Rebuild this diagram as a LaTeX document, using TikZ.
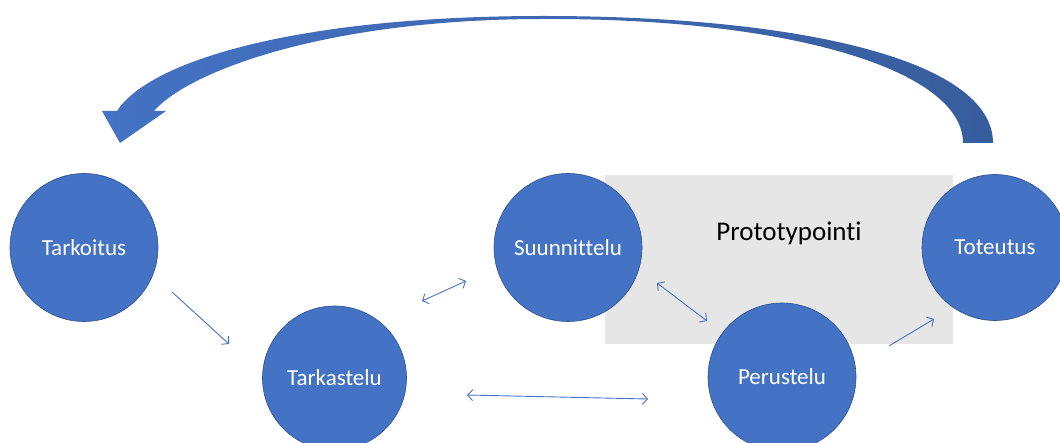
\documentclass[tikz,border=0pt]{standalone}
\usepackage{fontspec}
\setmainfont{Carlito}[Ligatures=NoCommon]
\usetikzlibrary{arrows.meta}
\definecolor{nodeblue}{HTML}{4472C4}
\definecolor{nodeedge}{HTML}{2F528F}
\definecolor{arcdark}{HTML}{375D9D}
\definecolor{protogrey}{HTML}{E7E6E6}
\tikzset{
  phase/.style={circle, fill=nodeblue, draw=nodeedge, line width=0.6pt,
    minimum size=148pt, inner sep=0pt, text=white,
    font=\fontsize{23}{27}\selectfont},
  link/.style={draw=nodeblue, line width=0.9pt,
    -{Straight Barb[length=5pt,width=11pt]}},
  biglink/.style={draw=nodeblue, line width=0.9pt,
    {Straight Barb[length=5pt,width=11pt]}-{Straight Barb[length=5pt,width=11pt]}}
}
\begin{document}
\begin{tikzpicture}[x=1pt,y=-1pt]
\useasboundingbox (0,0) rectangle (1060,443);
\clip (0,0) rectangle (1060,443);

% prototyping area
\node[fill=protogrey, minimum width=348pt, minimum height=169pt, anchor=north west,
      inner sep=0pt] (proto) at (605,175) {};
\node[font=\fontsize{27}{31}\selectfont, text=black] (protolabel) at (789,233) {Prototypointi};

% phases
\node[phase] (tarkoitus)   at (84,247.5)  {Tarkoitus};
\node[phase, minimum size=144pt] (tarkastelu)  at (334.5,378) {Tarkastelu};
\node[phase] (suunnittelu) at (568,247.5) {Suunnittelu};
\node[phase] (perustelu)   at (782,377)   {Perustelu};
\node[phase, minimum size=146pt] (toteutus) at (995,247.5) {Toteutus};

% connector end points between the circles
\coordinate (a1) at (172,292);   \coordinate (a2) at (229,344);
\coordinate (b1) at (422,301);   \coordinate (b2) at (466,281);
\coordinate (c1) at (657,283);   \coordinate (c2) at (707,321);
\coordinate (d1) at (467,395);   \coordinate (d2) at (648,399);
\coordinate (e1) at (889,346);   \coordinate (e2) at (934,319);

\draw[link]    (a1) -- (a2);
\draw[biglink] (b1) -- (b2);
\draw[biglink] (c1) -- (c2);
\draw[biglink] (d1) -- (d2);
\draw[link]    (e1) -- (e2);

% feedback arc from Toteutus back to Tarkoitus
\path[left color=nodeblue, right color=arcdark, draw=none]
  (993,143) .. controls (993,60) and (800,16) .. (543,16)
  .. controls (300,16) and (150,60) .. (117,111)
  -- (102,111) -- (120,143) -- (166,111) -- (154,111)
  .. controls (190,70) and (330,19) .. (543,19)
  .. controls (790,18) and (963,70) .. (963,143)
  -- cycle;
\end{tikzpicture}
\end{document}
